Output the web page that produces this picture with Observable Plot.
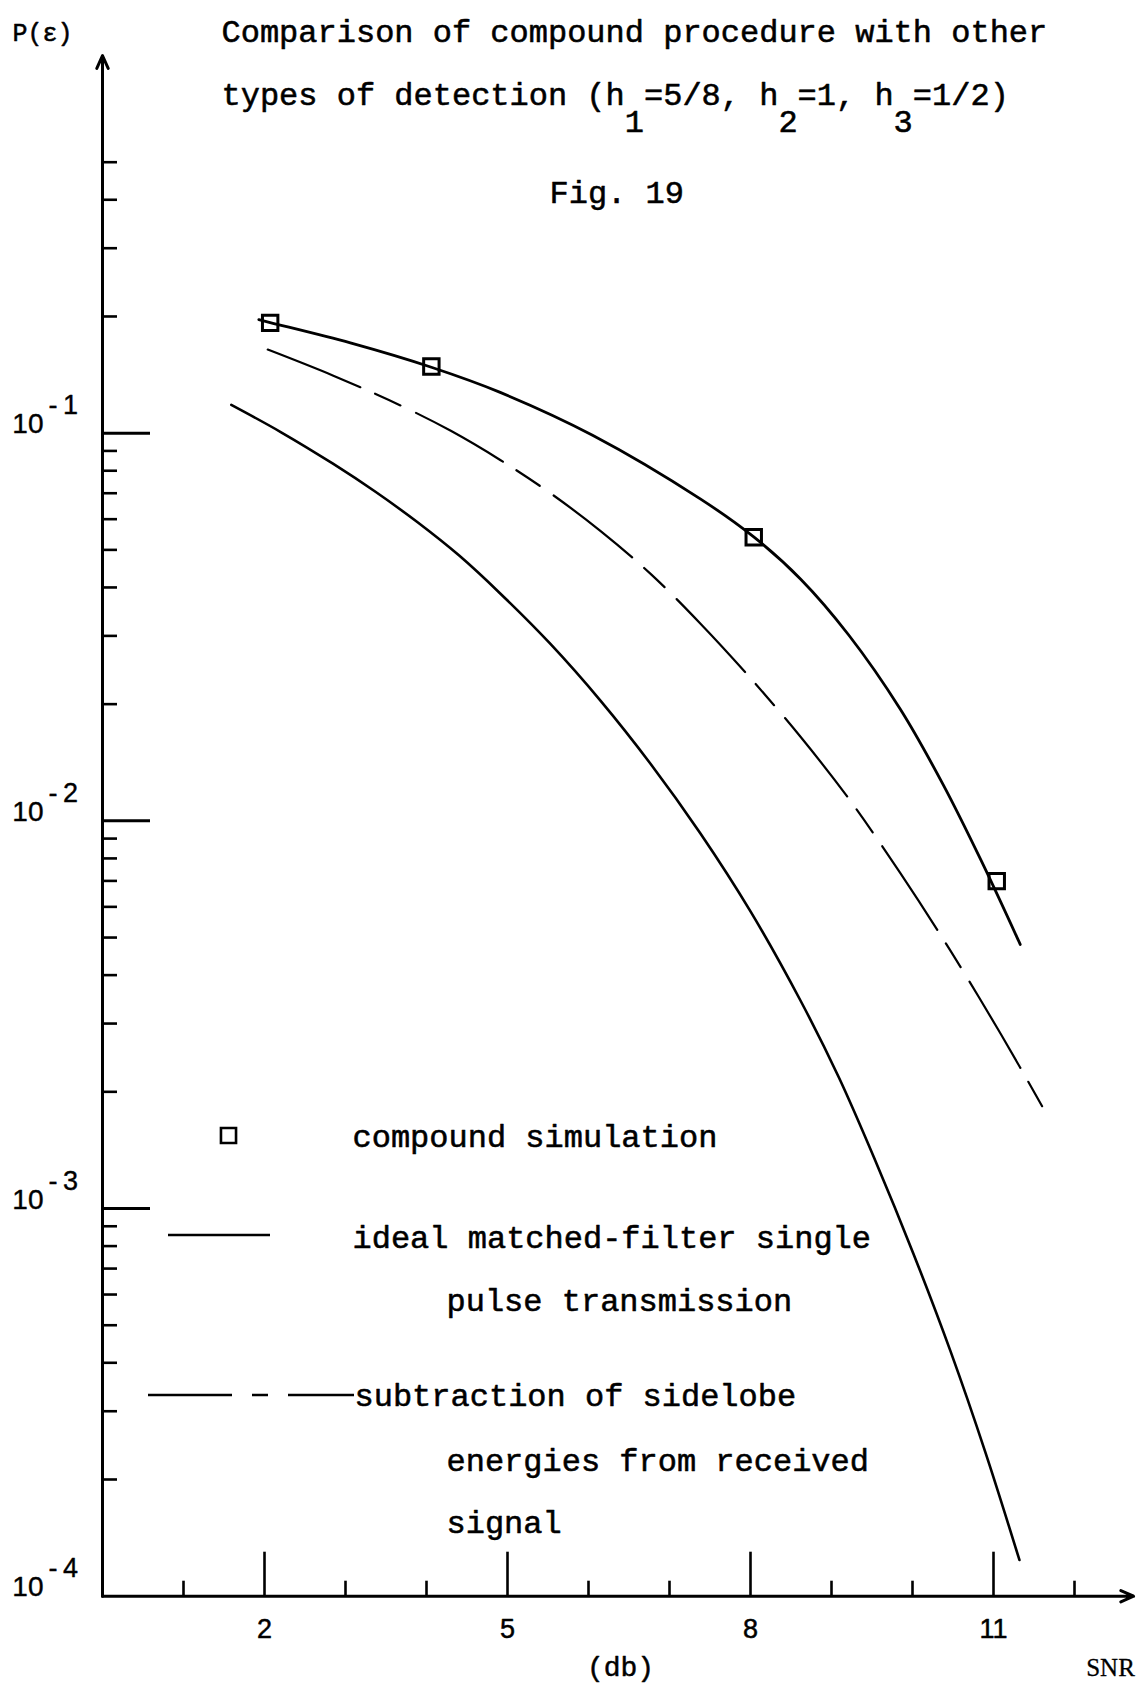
<!DOCTYPE html>
<html>
<head>
<meta charset="utf-8">
<script src="https://cdn.jsdelivr.net/npm/d3@7"></script>
<script src="https://cdn.jsdelivr.net/npm/@observablehq/plot@0.6"></script>
<style>
  html, body { margin: 0; padding: 0; background: #fff; }
  #chart svg { display: block; }
</style>
</head>
<body>
<div id="chart"></div>
<script>
// Error probability P(ε) against SNR (dB) for three detection schemes.

// Compound procedure: simulated points
const compoundSnr = [2.07, 4.06, 8.04, 11.04];
const compoundP   = [0.1925, 0.1486, 0.0539, 0.00699];

// Compound procedure: smooth curve through the simulation
const compoundCurveSnr = [1.93, 2.07, 3.06, 4.06, 4.91, 6.05, 7.38, 8.04, 8.62, 9.21, 9.85, 10.38, 10.85, 11.33];
const compoundCurveP   = [0.1963, 0.1929, 0.1709, 0.1479, 0.1274, 0.0988, 0.0677, 0.0540, 0.0420, 0.0302, 0.0194, 0.01238, 0.00788, 0.0048];

// Subtraction of sidelobe energies from the received signal (dashed)
const subtractionSnr = [2.04, 2.85, 3.68, 4.30, 4.91, 5.53, 6.15, 6.77, 7.38, 8.00, 8.62, 9.24, 9.85, 10.47, 11.09, 11.67];
const subtractionP   = [0.1643, 0.1407, 0.1179, 0.1014, 0.0853, 0.0700, 0.0559, 0.0433, 0.0323, 0.02334, 0.01645, 0.01121, 0.00733, 0.00462, 0.00282, 0.00173];

// Ideal matched-filter single pulse transmission
const idealSnr = [1.59, 2.20, 2.85, 3.37, 3.89, 4.40, 4.91, 5.53, 6.15, 6.77, 7.38, 8.00, 8.62, 9.09, 9.54, 10.01, 10.47, 10.90, 11.32];
const idealP   = [0.1183, 0.1007, 0.0833, 0.0706, 0.0589, 0.0484, 0.0386, 0.0286, 0.0204, 0.0140, 0.00929, 0.00584, 0.00343, 0.00218, 0.00133, 0.000766, 0.000428, 0.000235, 0.000124];

// Axis ticks
const xMajorTicks = [2, 5, 8, 11];
const xMinorTicks = [1, 3, 4, 6, 7, 9, 10, 12];
const yMajorTicks = [1e-1, 1e-2, 1e-3];
const yDecadeLabels = [-1, -2, -3, -4];
const yMinorMantissas = [2, 3, 4, 5, 6, 7, 8, 9];
const yMinorDecades = [1e-4, 1e-3, 1e-2];
const yMinorTop = [0.2, 0.3, 0.4, 0.5];

// Texts
const yAxisLabel = "P(ε)";
const xAxisUnit = "(db)";
const xAxisLabel = "SNR";
const titleLine1 = "Comparison of compound procedure with other";
const titleLine2 = "types of detection (h =5/8, h =1, h =1/2)";
const titleSubscripts = [[21, "1"], [29, "2"], [35, "3"]];
const figureLabel = "Fig. 19";
const legendCompound = ["compound simulation"];
const legendIdeal = ["ideal matched-filter single", "pulse transmission"];
const legendSubtraction = ["subtraction of sidelobe", "energies from received", "signal"];

// ---- layout ----
const W = 1143, H = 1683;
const xDomain = [0, 12.7], xRange = [102, 1130.7];
const yDomain = [1e-4, 1], yRange = [1595.7, 45];
const pxPerDb = (xRange[1] - xRange[0]) / (xDomain[1] - xDomain[0]);
const pxPerDecade = (yRange[0] - yRange[1]) / 4;
const yAxisTop = 0.942;
const xAxisEnd = 12.73;

const mono = "'Liberation Mono', 'Courier New', monospace";
const sans = "'Liberation Sans', Arial, sans-serif";
const serif = "'Liberation Serif', 'Times New Roman', serif";
const ink = "#000";

const rows = (xs, ys) => xs.map((snr, i) => ({snr, p: ys[i]}));
const yMinorTicks = yMinorDecades.flatMap(d => yMinorMantissas.map(m => m * d)).concat(yMinorTop);

const subscriptLine = (() => {
  const chars = Array.from(titleLine2, () => "\u00A0");
  for (const [i, c] of titleSubscripts) chars[i] = c;
  return chars.join("").replace(/\u00A0+$/, "");
})();

// typewritten annotation placed in page pixels
const typed = (text, dx, dy, opts = {}) => Plot.text([text], {
  text: d => d, frameAnchor: "top-left", dx, dy,
  textAnchor: "start", lineAnchor: "bottom",
  fontFamily: mono, fontSize: 32, fill: ink,
  stroke: ink, strokeWidth: 0.55, paintOrder: "stroke",
  ...opts
});

const yTickLen = (len) => len / pxPerDb;                     // horizontal tick length in dB units
const xTickTop = (len) => 1e-4 * 10 ** (len / pxPerDecade);  // vertical tick length on the log axis

const chart = Plot.plot({
  width: W,
  height: H,
  margin: 0,
  x: {domain: xDomain, range: xRange, axis: null},
  y: {type: "log", domain: yDomain, range: yRange, axis: null},
  style: {background: "#fff", overflow: "visible"},
  marks: [
    // axes with arrow heads
    Plot.arrow([0], {x1: 0, y1: 1e-4, x2: 0, y2: yAxisTop, stroke: ink, strokeWidth: 3, headLength: 7, headAngle: 48}),
    Plot.arrow([0], {x1: 0, y1: 1e-4, x2: xAxisEnd, y2: 1e-4, stroke: ink, strokeWidth: 3, headLength: 7, headAngle: 48}),

    // y ticks (pointing into the plot)
    Plot.ruleY(yMajorTicks, {y: d => d, x1: 0, x2: yTickLen(48), stroke: ink, strokeWidth: 3}),
    Plot.ruleY(yMinorTicks, {y: d => d, x1: 0, x2: yTickLen(15), stroke: ink, strokeWidth: 2.6}),

    // x ticks (pointing up)
    Plot.ruleX(xMajorTicks, {x: d => d, y1: 1e-4, y2: xTickTop(44), stroke: ink, strokeWidth: 2.6}),
    Plot.ruleX(xMinorTicks, {x: d => d, y1: 1e-4, y2: xTickTop(15), stroke: ink, strokeWidth: 2.6}),

    // y tick labels: 10 with raised exponent
    Plot.text(yDecadeLabels, {x: 0, y: e => 10 ** e, text: () => "10", textAnchor: "end", lineAnchor: "bottom",
      dx: -59, fontFamily: sans, fontSize: 28, fill: ink, stroke: ink, strokeWidth: 0.4}),
    Plot.text(yDecadeLabels, {x: 0, y: e => 10 ** e, text: e => "-\u2009" + Math.abs(e), textAnchor: "start", lineAnchor: "bottom",
      dx: -54, dy: -19, fontFamily: sans, fontSize: 27, fill: ink, stroke: ink, strokeWidth: 0.4}),

    // x tick labels
    Plot.text(xMajorTicks, {x: d => d, y: 1e-4, text: d => String(d), dy: 33, lineAnchor: "middle",
      fontFamily: sans, fontSize: 27, fill: ink, stroke: ink, strokeWidth: 0.5}),

    // curves
    Plot.line(rows(idealSnr, idealP), {x: "snr", y: "p", curve: "catmull-rom", stroke: ink, strokeWidth: 2.6}),
    Plot.line(rows(subtractionSnr, subtractionP), {x: "snr", y: "p", curve: "catmull-rom", stroke: ink, strokeWidth: 2.2,
      strokeDasharray: "100,16,28,17"}),
    Plot.line(rows(compoundCurveSnr, compoundCurveP), {x: "snr", y: "p", curve: "catmull-rom", stroke: ink, strokeWidth: 2.8}),
    Plot.dot(rows(compoundSnr, compoundP), {x: "snr", y: "p", symbol: "square", r: 8.7, fill: "none", stroke: ink, strokeWidth: 3}),

    // axis labels
    typed(yAxisLabel, 12, 40, {fontSize: 25}),
    Plot.text([xAxisUnit], {text: d => d, frameAnchor: "top-left", dx: 620, dy: 1675, textAnchor: "middle", lineAnchor: "bottom",
      fontFamily: mono, fontSize: 28, fill: ink, stroke: ink, strokeWidth: 0.5}),
    Plot.text([xAxisLabel], {text: d => d, frameAnchor: "top-left", dx: 1110, dy: 1675, textAnchor: "middle", lineAnchor: "bottom",
      fontFamily: serif, fontSize: 25, fill: ink, stroke: ink, strokeWidth: 0.3}),

    // title block
    typed(titleLine1, 221, 41),
    typed(titleLine2, 221, 104),
    typed(subscriptLine, 221, 131),
    typed(figureLabel, 549, 202),

    // legend keys
    Plot.dot([0], {frameAnchor: "top-left", dx: 228, dy: 1135, symbol: "square", r: 8.5, fill: "none", stroke: ink, strokeWidth: 2.6}),
    () => {
      const g = d3.create("svg:g").attr("fill", "none").attr("stroke", ink).attr("stroke-width", 2.4);
      g.append("path").attr("d", "M168,1235H270");
      g.append("path").attr("d", "M148,1395H232M252,1395H268M288,1395H354");
      return g.node();
    },

    // legend labels
    typed(legendCompound[0], 352, 1146.5),
    typed(legendIdeal[0], 352, 1247),
    typed(legendIdeal[1], 446, 1310),
    typed(legendSubtraction[0], 354, 1405),
    typed(legendSubtraction[1], 446, 1470),
    typed(legendSubtraction[2], 446, 1532)
  ]
});

document.getElementById("chart").appendChild(chart);
</script>
</body>
</html>
